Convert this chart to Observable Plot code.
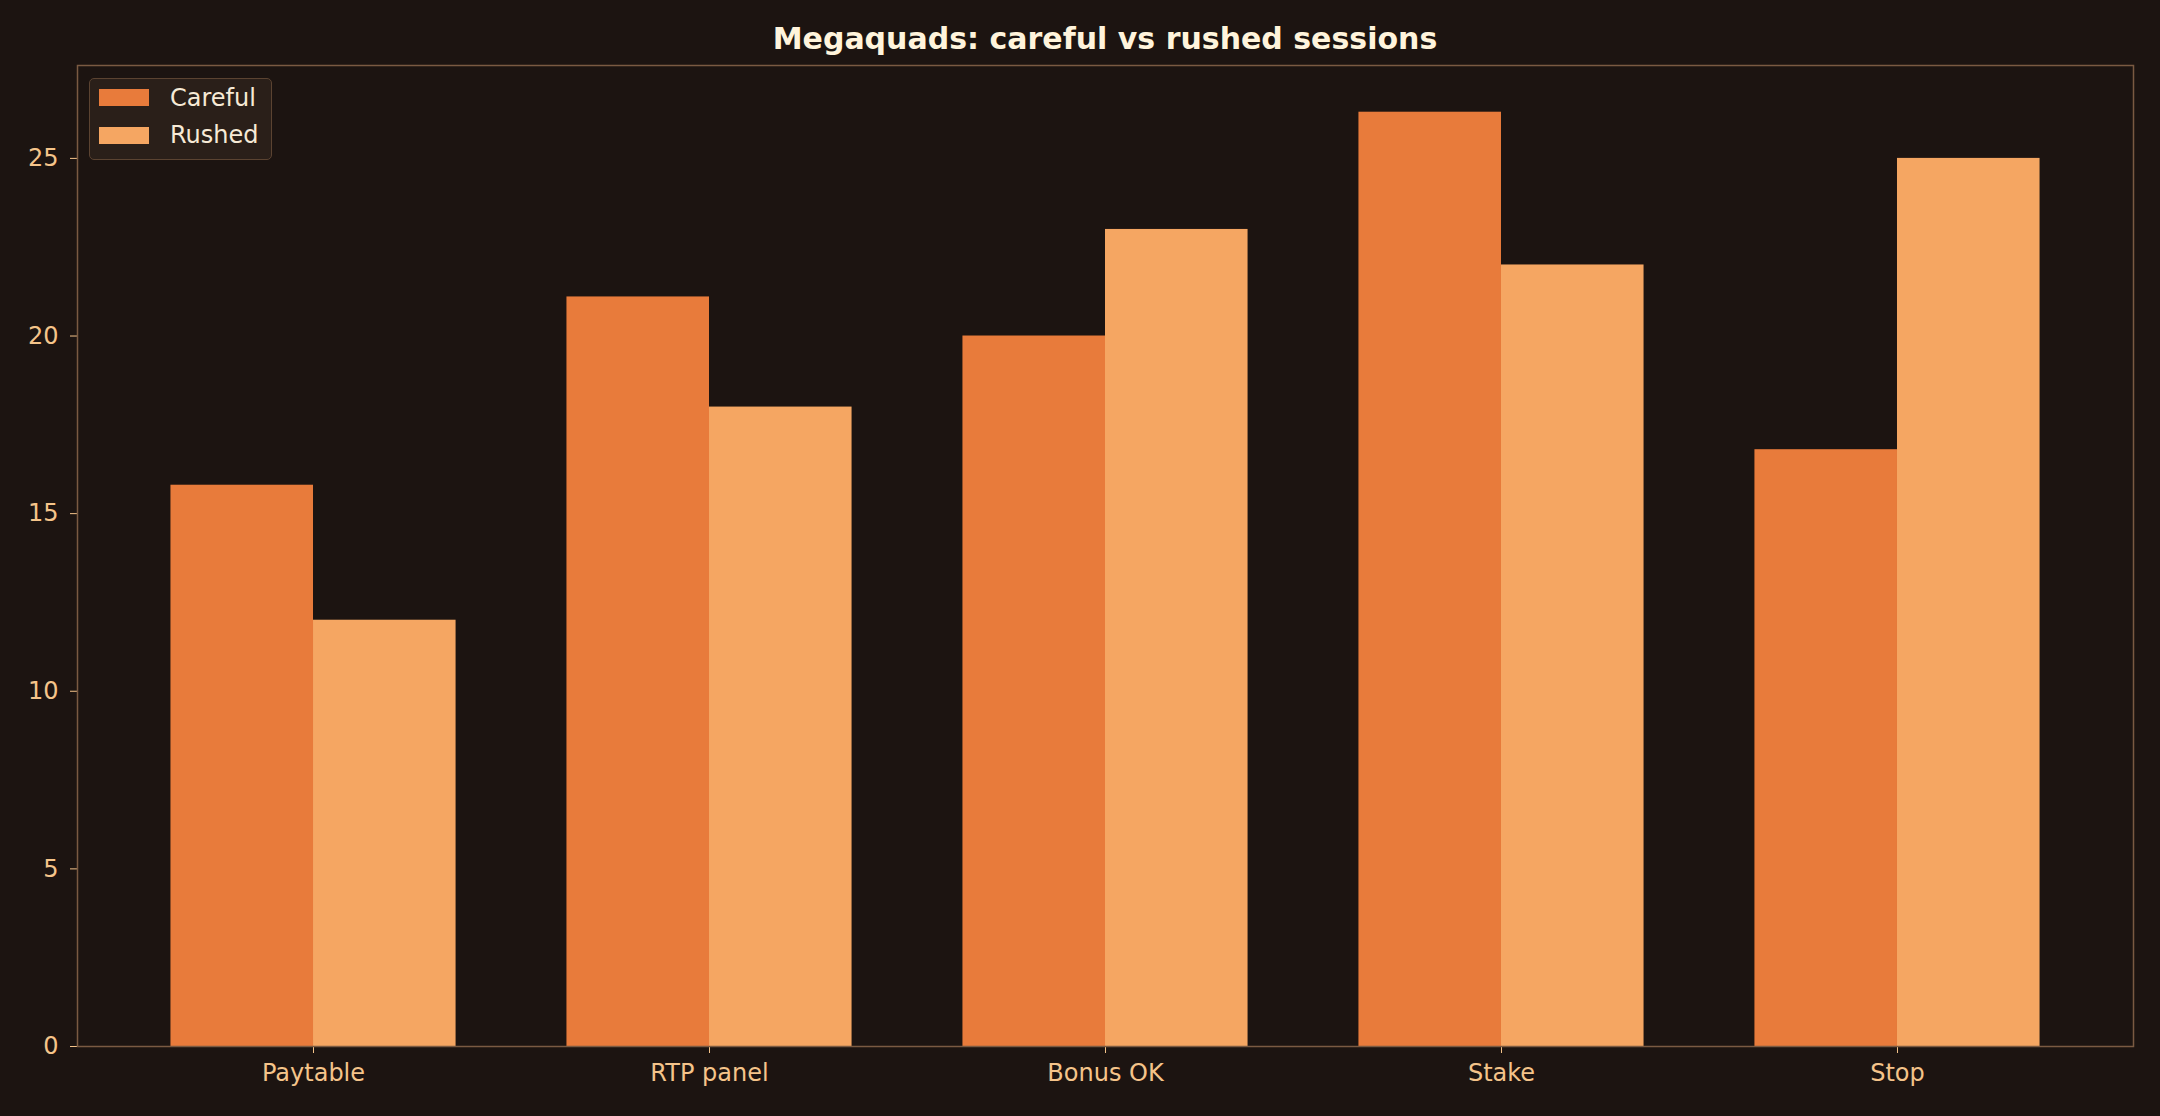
<!DOCTYPE html>
<html>
<head>
<meta charset="utf-8">
<script src="https://cdn.jsdelivr.net/npm/d3@7"></script>
<script src="https://cdn.jsdelivr.net/npm/@observablehq/plot@0.6"></script>
<style>
  html, body { margin: 0; padding: 0; background: #1c1411; }
  #wrap { position: relative; width: 2160px; height: 1116px; background: #1c1411; font-family: "DejaVu Sans", sans-serif; }
  #title { height: 58px; box-sizing: border-box; padding-top: 24px; line-height: 30px; font-size: 30px; font-weight: bold; color: #fff4dc; padding-left: 77px; width: 2133px; text-align: center; }
  #legend { position: absolute; left: 89px; top: 78px; width: 181px; height: 80px; border: 1.5px solid #5b4331; border-radius: 5px; background: #2a1f19; }
  .sw { position: absolute; left: 9px; width: 50px; height: 17px; }
  .lt { position: absolute; left: 80px; font-size: 24px; line-height: 24px; color: #f7ead6; white-space: nowrap; }
</style>
</head>
<body>
<div id="wrap">
  <div id="title">Megaquads: careful vs rushed sessions</div>
  <div id="chart"></div>
  <div id="legend"></div>
</div>
<script>
const categories = ["Paytable", "RTP panel", "Bonus OK", "Stake", "Stop"];
const careful = [15.8, 21.1, 20.0, 26.3, 16.8];
const rushed = [12.0, 18.0, 23.0, 22.0, 25.0];
const seriesNames = ["Careful", "Rushed"];
const seriesColors = ["#e87b3b", "#f5a662"];
const yTicks = [0, 5, 10, 15, 20, 25];

const barW = 0.36;
const rows = [];
categories.forEach((c, i) => {
  rows.push({cat: c, i, series: "Careful", x1: i - barW, x2: i, value: careful[i]});
  rows.push({cat: c, i, series: "Rushed", x1: i, x2: i + barW, value: rushed[i]});
});

const yMax = d3.max([...careful, ...rushed]) * 1.05;
const xPad = (categories.length - 1 + 2 * barW) * 0.05;

const plot = Plot.plot({
  width: 2160,
  height: 1058,
  marginTop: 7,
  marginBottom: 70,
  marginLeft: 77,
  marginRight: 27,
  style: {background: "#1c1411", color: "#f5c48a", fontFamily: "DejaVu Sans, sans-serif", fontSize: "24px"},
  x: {type: "linear", domain: [-barW - xPad, categories.length - 1 + barW + xPad]},
  y: {domain: [0, yMax]},
  color: {domain: seriesNames, range: seriesColors},
  marks: [
    Plot.rect(rows, {x1: "x1", x2: "x2", y1: 0, y2: "value", fill: "series"}),
    Plot.axisY({ticks: yTicks, tickSize: 7, tickPadding: 12, fontSize: 24, label: null}),
    Plot.axisX({ticks: categories.map((_, i) => i), tickFormat: i => categories[i], tickSize: 7, tickPadding: 10, fontSize: 24, label: null}),
    Plot.frame({stroke: "#7a5a42", strokeWidth: 1.5})
  ]
});
document.getElementById("chart").appendChild(plot);

const legend = document.getElementById("legend");
seriesNames.forEach((name, k) => {
  const sw = document.createElement("div");
  sw.className = "sw";
  sw.style.top = (k === 0 ? 10 : 48) + "px";
  sw.style.background = seriesColors[k];
  legend.appendChild(sw);
  const t = document.createElement("div");
  t.className = "lt";
  t.style.top = (k === 0 ? 7 : 44) + "px";
  t.textContent = name;
  legend.appendChild(t);
});
</script>
</body>
</html>
